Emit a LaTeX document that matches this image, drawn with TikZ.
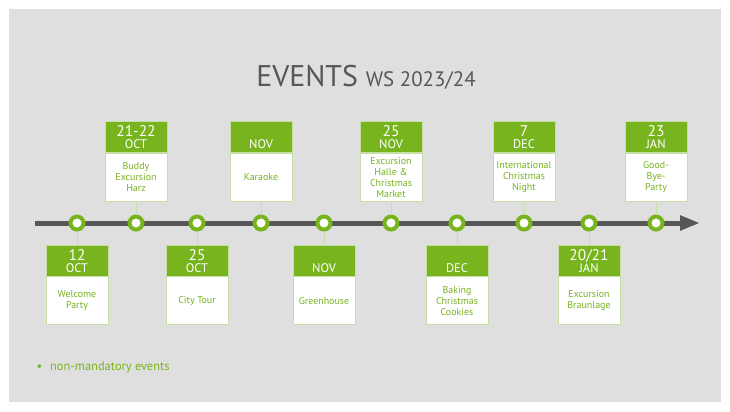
\documentclass[tikz,border=0pt]{standalone}
\usepackage{fontspec}
\setmainfont{PT Sans}
\usepackage{xcolor}
\usetikzlibrary{arrows.meta,positioning}
\definecolor{evgreen}{HTML}{78B41E}
\definecolor{evpale}{HTML}{C6DFA4}
\definecolor{evpanel}{HTML}{DFDFDF}
\definecolor{evdark}{HTML}{575757}

\begin{document}
\begin{tikzpicture}[x=1bp,y=-1bp,
    head/.style={fill=evgreen,draw=evpale,line width=0.8bp,minimum width=62bp,minimum height=31bp,inner sep=0pt},
    body/.style={fill=white,draw=evpale,line width=0.8bp,minimum width=62bp,minimum height=48bp,inner sep=0pt,align=center,text=evgreen,font=\fontsize{10}{11}\selectfont},
    daytxt/.style={text=white,inner sep=0pt,anchor=base,font=\fontsize{15.5}{16}\selectfont},
    montxt/.style={text=white,inner sep=0pt,anchor=base,font=\fontsize{12.5}{13}\selectfont},
    dot/.style={circle,draw=evgreen,fill=white,line width=4bp,minimum size=13bp,inner sep=0pt},
    link/.style={draw=evpale,line width=1bp}]
    \useasboundingbox (0,0) rectangle (730,411);
    \fill[evpanel] (9,9) rectangle (721,402);
    \node[text=evdark,anchor=base] (title) at (366,86) {\fontsize{30}{30}\selectfont EVENTS \fontsize{21}{21}\selectfont WS 2023/24};
    % timeline
    \coordinate (tstart) at (35,223);
    \coordinate (tend) at (700,223);
    \draw[evdark,line width=5bp,-{Triangle[length=20bp,width=14bp]}] (tstart) -- (tend);
    \foreach \x [count=\i] in {77,136,197,261,324,391,457,524,589,656}
      \node[dot] (dot\i) at (\x,223) {};
    % events above the line
    \foreach \i/\d/\m/\t in {2/21-22/OCT/{Buddy\\Excursion\\Harz},4//NOV/{Karaoke},6/25/NOV/{Excursion\\Halle \&\\Christmas\\Market},8/7/DEC/{International\\Christmas\\Night},10/23/JAN/{Good-\\Bye-\\Party}} {
      \node[body,above=13bp of dot\i] (bd\i) {\t};
      \node[head,above=0pt of bd\i] (hd\i) {};
      \node[daytxt] at ([yshift=-15.5bp]hd\i.north) {\d};
      \node[montxt] at ([yshift=-28bp]hd\i.north) {\m};
      \draw[link] (bd\i.south) -- (dot\i.north);
    }
    % events below the line
    \foreach \i/\d/\m/\t in {1/12/OCT/{Welcome\\Party},3/25/OCT/{City Tour},5//NOV/{Greenhouse},7//DEC/{Baking\\Christmas\\Cookies},9/{20/21}/JAN/{Excursion\\Braunlage}} {
      \node[head,below=13bp of dot\i] (hd\i) {};
      \node[body,below=0pt of hd\i] (bd\i) {\t};
      \node[daytxt] at ([yshift=-15.5bp]hd\i.north) {\d};
      \node[montxt] at ([yshift=-28bp]hd\i.north) {\m};
      \draw[link] (dot\i.south) -- (hd\i.north);
    }
    \node[anchor=west,text=evgreen,font=\fontsize{12.5}{14}\selectfont] (legend) at (33,367) {\textbullet\hspace{8bp}non-mandatory events};
\end{tikzpicture}
\end{document}
